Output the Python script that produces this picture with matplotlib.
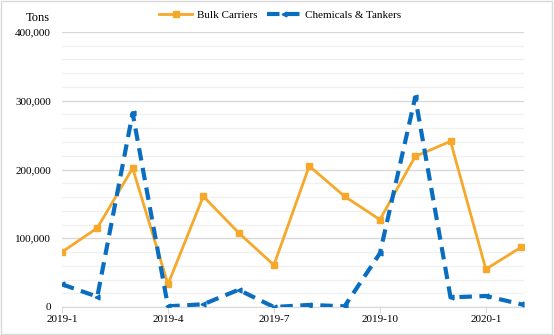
import numpy as np
import matplotlib
matplotlib.use('Agg')
import matplotlib.pyplot as plt
from matplotlib.ticker import FuncFormatter, MultipleLocator

plt.rcParams['font.family'] = ['Liberation Serif', 'DejaVu Serif']

# Monthly tonnage, 2019-1 .. 2020-2
months = ['2019-1', '2019-2', '2019-3', '2019-4', '2019-5', '2019-6', '2019-7',
          '2019-8', '2019-9', '2019-10', '2019-11', '2019-12', '2020-1', '2020-2']
bulk = [80000, 115000, 202000, 33000, 161000, 108000, 61000,
        205000, 161000, 127000, 219000, 241000, 55000, 87000]
chem = [33000, 15000, 282000, 1000, 4000, 25000, 0,
        3000, 1000, 78000, 305000, 14000, 16000, 4000]

x = np.arange(len(months))

fig = plt.figure(figsize=(5.54, 3.35), dpi=100)
ax = fig.add_axes([62 / 554, 1 - 307 / 335, 462 / 554, 275 / 335])

ax.plot(x, bulk, color='#F5A82A', lw=2, marker='s', ms=4.5, label='Bulk Carriers', zorder=3)
ax.plot(x, chem, color='#0A6EC0', lw=3, ls=(0, (3, 1.8)), marker='<', ms=3.5,
        label='Chemicals & Tankers', zorder=4)

ax.set_xlim(0, 13.08)
ax.set_ylim(0, 400000)
ax.yaxis.set_major_locator(MultipleLocator(100000))
ax.yaxis.set_minor_locator(MultipleLocator(20000))
ax.yaxis.set_major_formatter(FuncFormatter(lambda v, p: f'{int(v):,}'))
ax.set_xticks(x[::3])
ax.set_xticklabels(months[::3])

ax.grid(axis='y', which='minor', color='#f0f0f0', lw=1)
ax.grid(axis='y', which='major', color='#d9d9d9', lw=1)
ax.set_axisbelow(True)
for s in ['top', 'right', 'left']:
    ax.spines[s].set_visible(False)
ax.spines['bottom'].set_color('#d9d9d9')
ax.tick_params(axis='y', which='both', length=0, labelsize=8, pad=8)
ax.tick_params(axis='x', length=4, color='#d9d9d9', labelsize=8, pad=2)

fig.text(26 / 554, 1 - 18 / 335, 'Tons', fontsize=9, va='center', ha='left')
ax.legend(loc='center', bbox_to_anchor=(280 / 554, 1 - 15 / 335),
          bbox_transform=fig.transFigure, ncol=2, frameon=False, fontsize=8,
          handlelength=3, columnspacing=0.9, handletextpad=0.4)

# light frame round the whole figure
fig.patches.append(plt.Rectangle((0.002, 0.004), 0.995, 0.993, transform=fig.transFigure,
                                 fill=False, edgecolor='#d9d9d9', lw=1))

fig.savefig('out.png', dpi=100)
